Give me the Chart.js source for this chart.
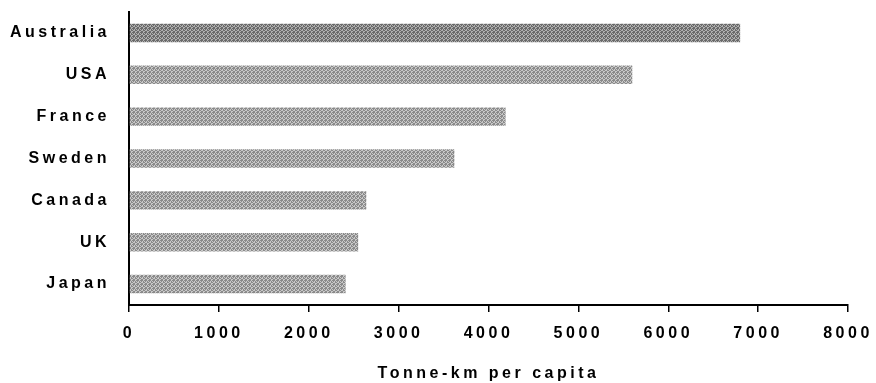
<!DOCTYPE html>
<html>
<head>
<meta charset="utf-8">
<script src="https://cdn.jsdelivr.net/npm/chart.js@4.4.1/dist/chart.umd.min.js"></script>
<style>
  html, body { margin: 0; padding: 0; background: #ffffff; }
  #wrap { width: 876px; height: 383px; position: relative; }
</style>
</head>
<body>
<div id="wrap"><canvas id="chart"></canvas></div>
<script>
// Freight transport per person, tonne-km
const countries = ['Australia', 'USA', 'France', 'Sweden', 'Canada', 'UK', 'Japan'];
const tonneKmPerCapita = [6800, 5600, 4190, 3620, 2640, 2550, 2410];
const xTicks = [0, 1000, 2000, 3000, 4000, 5000, 6000, 7000, 8000];
const xTitle = 'Tonne-km per capita';

// Small ordered-dither grey screen for the bars
function screenPattern(dark, light) {
  const c = document.createElement('canvas');
  c.width = 4; c.height = 4;
  const g = c.getContext('2d');
  g.fillStyle = light; g.fillRect(0, 0, 4, 4);
  g.fillStyle = dark;
  [[0,0],[2,0],[1,1],[3,1],[0,2],[3,2],[1,3],[2,3],[1,0]].forEach(([x, y]) => g.fillRect(x, y, 1, 1));
  return g.createPattern(c, 'repeat');
}
const fills = countries.map((c, i) =>
  i === 0 ? screenPattern('#6a6a6a', '#b0b0b0') : screenPattern('#8a8a8a', '#c8c8c8'));

// Wide letter spacing for all chart text
const spacing = {
  id: 'spacing',
  beforeLayout(chart) { chart.ctx.letterSpacing = '3.5px'; },
  beforeDraw(chart) { chart.ctx.letterSpacing = '3.5px'; }
};

const font = { family: '"Liberation Sans", Arial, sans-serif', size: 16, weight: 'bold' };

new Chart(document.getElementById('chart'), {
  type: 'bar',
  data: {
    labels: countries,
    datasets: [{
      data: tonneKmPerCapita,
      backgroundColor: fills,
      borderWidth: 0,
      barPercentage: 0.44,
      categoryPercentage: 1.0
    }]
  },
  plugins: [spacing],
  options: {
    indexAxis: 'y',
    responsive: true,
    maintainAspectRatio: false,
    animation: false,
    layout: { padding: { top: 12, right: 28, left: 0, bottom: 0 } },
    plugins: { legend: { display: false }, tooltip: { enabled: false } },
    scales: {
      x: {
        type: 'linear',
        min: 0,
        max: 8000,
        afterBuildTicks(scale) { scale.ticks = xTicks.map(v => ({ value: v })); },
        afterFit(scale) { scale.height = 78; scale.paddingLeft = 0; scale.paddingRight = 0; },
        grid: { display: true, drawOnChartArea: false, drawTicks: true, tickLength: 7, color: '#000', lineWidth: 1.5 },
        border: { display: true, color: '#000', width: 2 },
        ticks: { color: '#000', font: font, padding: 12, maxRotation: 0, autoSkip: false,
                 callback: v => String(v) },
        title: { display: true, text: xTitle, color: '#000', font: font, padding: { top: 13, bottom: 0 } }
      },
      y: {
        afterFit(scale) { scale.width = 129; scale.paddingTop = 0; scale.paddingBottom = 0; },
        grid: { display: false, drawOnChartArea: false, drawTicks: false },
        border: { display: true, color: '#000', width: 2 },
        ticks: { color: '#000', font: font, padding: 19 }
      }
    }
  }
});
</script>
</body>
</html>
